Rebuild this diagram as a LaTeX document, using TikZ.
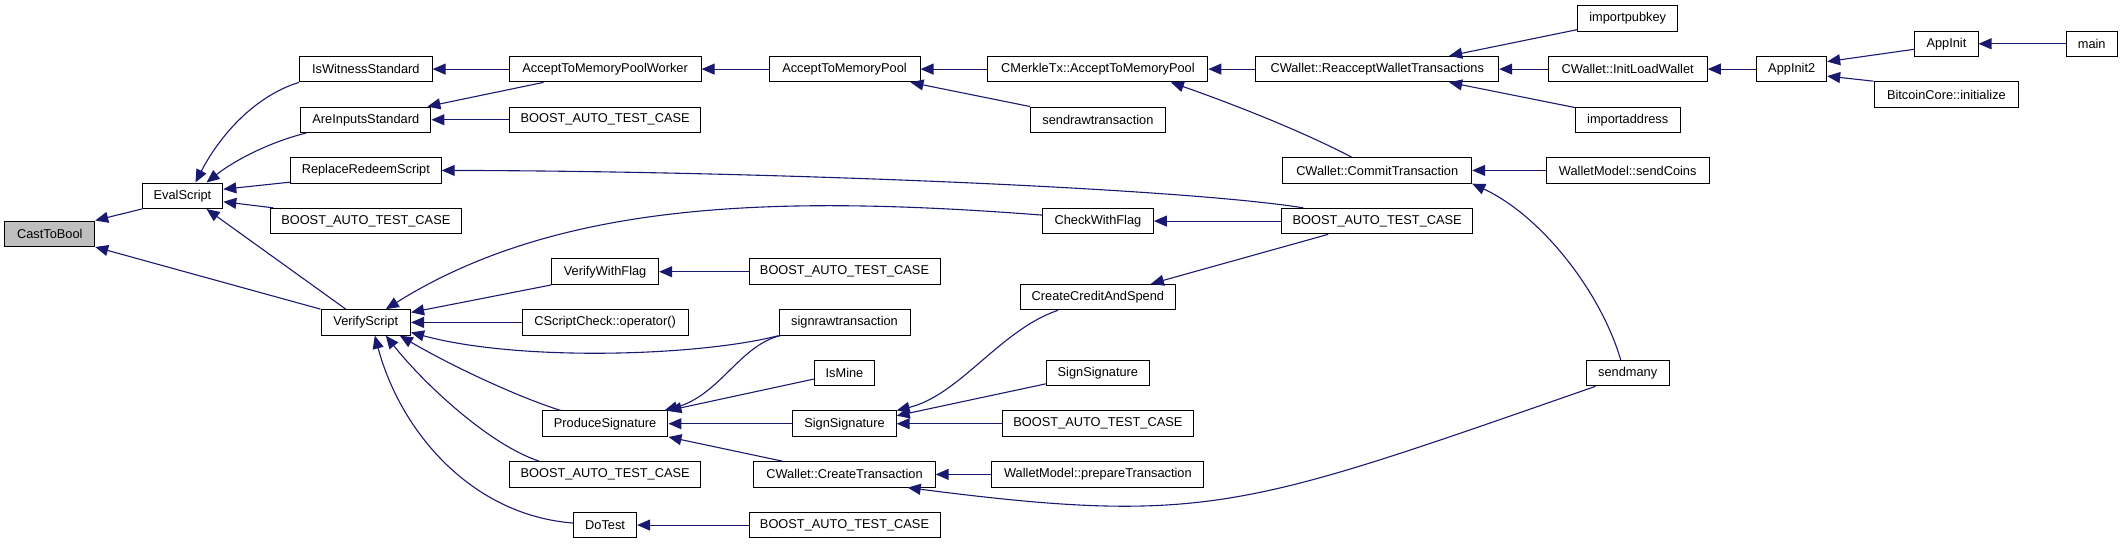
\documentclass[tikz,border=0pt]{standalone}
\usepackage{fontspec}
\setmainfont{Liberation Sans}
\usetikzlibrary{arrows.meta,calc}
\definecolor{edgeblue}{HTML}{191970}
\definecolor{selgray}{HTML}{BFBFBF}
\newcommand\nd[5]{\node[box, minimum width={#3*0.5pt}] (#1) at (#2,{18.45+25.33*#4}) {#5};}
\begin{document}
\begin{tikzpicture}[x=0.5pt,y=-0.5pt,
  box/.style={draw=black, line width=0.5pt, fill=white, minimum height=12.75pt, inner sep=0pt, font=\fontsize{6.4pt}{7pt}\selectfont, anchor=center},
  edge/.style={draw=edgeblue, line width=0.55pt, -{Triangle[length=6.5pt,width=5.5pt]}}]
\useasboundingbox (0,0) rectangle (2123,544);
% rank 0,1
\nd{ctb}{49.75}{89.9}{8.5}{CastToBool}
\node[box, fill=selgray, minimum width={89.9*0.5pt}] at (ctb) {CastToBool};
\nd{evs}{182.5}{80.6}{7}{EvalScript}
% rank 2
\nd{iws}{365.8}{132.6}{2}{IsWitnessStandard}
\nd{ais}{365.8}{130.2}{4}{AreInputsStandard}
\nd{rrs}{365.8}{150.8}{6}{ReplaceRedeemScript}
\nd{bt1}{365.8}{191}{8}{BOOST\_AUTO\_TEST\_CASE}
\nd{vfs}{365.8}{89.5}{12}{VerifyScript}
% rank 3
\nd{atw}{605.1}{192}{2}{AcceptToMemoryPoolWorker}
\nd{bt2}{605.1}{191}{4}{BOOST\_AUTO\_TEST\_CASE}
\nd{vwf}{605.1}{107.1}{10}{VerifyWithFlag}
\nd{csc}{605.1}{166}{12}{CScriptCheck::operator()}
\nd{pds}{605.1}{125.7}{16}{ProduceSignature}
\nd{bt6}{605.1}{191}{18}{BOOST\_AUTO\_TEST\_CASE}
\nd{dts}{605.1}{63}{20}{DoTest}
% rank 4
\nd{atm}{844.5}{151}{2}{AcceptToMemoryPool}
\nd{bt4}{844.5}{191}{10}{BOOST\_AUTO\_TEST\_CASE}
\nd{srw}{844.5}{131}{12}{signrawtransaction}
\nd{ism}{844.5}{60.2}{14}{IsMine}
\nd{ss2}{844.5}{103.3}{16}{SignSignature}
\nd{ctx}{844.5}{181.4}{18}{CWallet::CreateTransaction}
\nd{bt7}{844.5}{191}{20}{BOOST\_AUTO\_TEST\_CASE}
% rank 5
\nd{cmt}{1097.9}{219.9}{2}{CMerkleTx::AcceptToMemoryPool}
\nd{srt}{1097.9}{135}{4}{sendrawtransaction}
\nd{cwf}{1097.9}{111}{8}{CheckWithFlag}
\nd{ccs}{1097.9}{155}{11}{CreateCreditAndSpend}
\nd{ss1}{1097.9}{102.9}{14}{SignSignature}
\nd{bt5}{1097.9}{191}{16}{BOOST\_AUTO\_TEST\_CASE}
\nd{wpt}{1097.9}{211.9}{18}{WalletModel::prepareTransaction}
% rank 6
\nd{rwt}{1377.2}{242.9}{2}{CWallet::ReacceptWalletTransactions}
\nd{cmt2}{1377.2}{188.9}{6}{CWallet::CommitTransaction}
\nd{bt3}{1377.2}{191}{8}{BOOST\_AUTO\_TEST\_CASE}
% rank 7
\nd{ipk}{1627.7}{100.4}{0}{importpubkey}
\nd{ilw}{1627.7}{159.1}{2}{CWallet::InitLoadWallet}
\nd{iad}{1627.7}{104.8}{4}{importaddress}
\nd{wsc}{1627.7}{162.8}{6}{WalletModel::sendCoins}
\nd{smy}{1627.7}{83.3}{14}{sendmany}
% rank 8-10
\nd{ai2}{1791.7}{69.9}{2}{AppInit2}
\nd{ain}{1946.4}{63.2}{1}{AppInit}
\nd{bci}{1946.4}{144.6}{3}{BitcoinCore::initialize}
\nd{mn}{2091.7}{51.3}{1}{main}
% edges
\draw[edge] (evs.south west) -- (ctb.north east);
\draw[edge] (vfs.north west) -- (ctb.south east);
\draw[edge] (iws.south west) .. controls (255,96) and (220,135) .. ($(evs.north)+(13,0)$);
\draw[edge] ($(ais.south west)+(6,0)$) .. controls (270,142) and (235,160) .. ($(evs.north)+(24,0)$);
\draw[edge] ($(rrs.south west)+(0,-1.5)$) -- ($(evs.east)+(0,-6.5)$);
\draw[edge] ($(bt1.north west)+(3.5,0)$) -- ($(evs.east)+(0,6)$);
\draw[edge] ($(vfs.north)+(-20,0)$) -- ($(evs.south)+(24,0)$);
\draw[edge] (atw.west) -- (iws.east);
\draw[edge] ($(atw.south west)+(35,0)$) -- ($(ais.north east)+(-4,0)$);
\draw[edge] (bt2.west) -- (ais.east);
\draw[edge] (atm.west) -- (atw.east);
\draw[edge] (cmt.west) -- (atm.east);
\draw[edge] (srt.north west) -- ($(atm.south east)+(-10,0)$);
\draw[edge] (rwt.west) -- (cmt.east);
\draw[edge] ($(cmt2.north)+(-25.5,0)$) .. controls (1290,125) and (1210,96) .. ($(cmt.south)+(73,0)$);
\draw[edge] ($(ipk.south west)+(0,-2)$) -- ($(rwt.north east)+(-50,0)$);
\draw[edge] (ilw.west) -- (rwt.east);
\draw[edge] ($(iad.north west)+(0,1)$) -- ($(rwt.south east)+(-50,0)$);
\draw[edge] (ai2.west) -- (ilw.east);
\draw[edge] ($(ain.west)+(0,5.5)$) -- ($(ai2.east)+(0,-7.5)$);
\draw[edge] (bci.north west) -- ($(ai2.east)+(0,7)$);
\draw[edge] (mn.west) -- (ain.east);
\draw[edge] ($(bt3.north west)+(22,0)$) .. controls (1180,188) and (760,171) .. (rrs.east);
\draw[edge] (wsc.west) -- (cmt2.east);
\draw[edge] ($(smy.north)+(-7,0)$) .. controls (1600,290) and (1540,215) .. (cmt2.south east);
\draw[edge] ($(cwf.west)+(0,-6)$) .. controls (780,195) and (560,200) .. ($(vfs.north)+(20,0)$);
\draw[edge] (bt3.west) -- (cwf.east);
\draw[edge] (vwf.south west) -- ($(vfs.east)+(0,-10)$);
\draw[edge] (bt4.west) -- (vwf.east);
\draw[edge] (csc.west) -- (vfs.east);
\draw[edge] (srw.south west) .. controls (700,356) and (520,362) .. ($(vfs.east)+(0,10)$);
\draw[edge] ($(pds.north west)+(19,0)$) .. controls (515,396) and (450,365) .. ($(vfs.south)+(34,0)$);
\draw[edge] ($(bt6.north west)+(30,0)$) .. controls (490,445) and (425,385) .. ($(vfs.south)+(20,0)$);
\draw[edge] ($(dts.west)+(0,-2)$) .. controls (470,515) and (400,430) .. ($(vfs.south)+(9,0)$);
\draw[edge] (bt7.west) -- (dts.east);
\draw[edge] ($(bt3.south west)+(47,0)$) -- ($(ccs.north east)+(-25,0)$);
\draw[edge] ($(ccs.south west)+(38,0)$) .. controls (1000,330) and (960,395) .. (ss2.north east);
\draw[edge] ($(srw.south west)+(2,0)$) .. controls (740,345) and (720,395) .. ($(pds.north east)+(-4,0)$);
\draw[edge] ($(ism.west)+(0,6)$) -- (pds.north east);
\draw[edge] (ss2.west) -- (pds.east);
\draw[edge] ($(ctx.north west)+(29,0)$) -- (pds.south east);
\draw[edge] ($(ss1.south west)+(0,-2.5)$) -- ($(ss2.east)+(0,-8)$);
\draw[edge] (bt5.west) -- (ss2.east);
\draw[edge] (wpt.west) -- (ctx.east);
\draw[edge] ($(smy.south west)+(10,0)$) .. controls (1246,508) and (1207,526) .. ($(ctx.south east)+(-28,0)$);
\end{tikzpicture}
\end{document}
